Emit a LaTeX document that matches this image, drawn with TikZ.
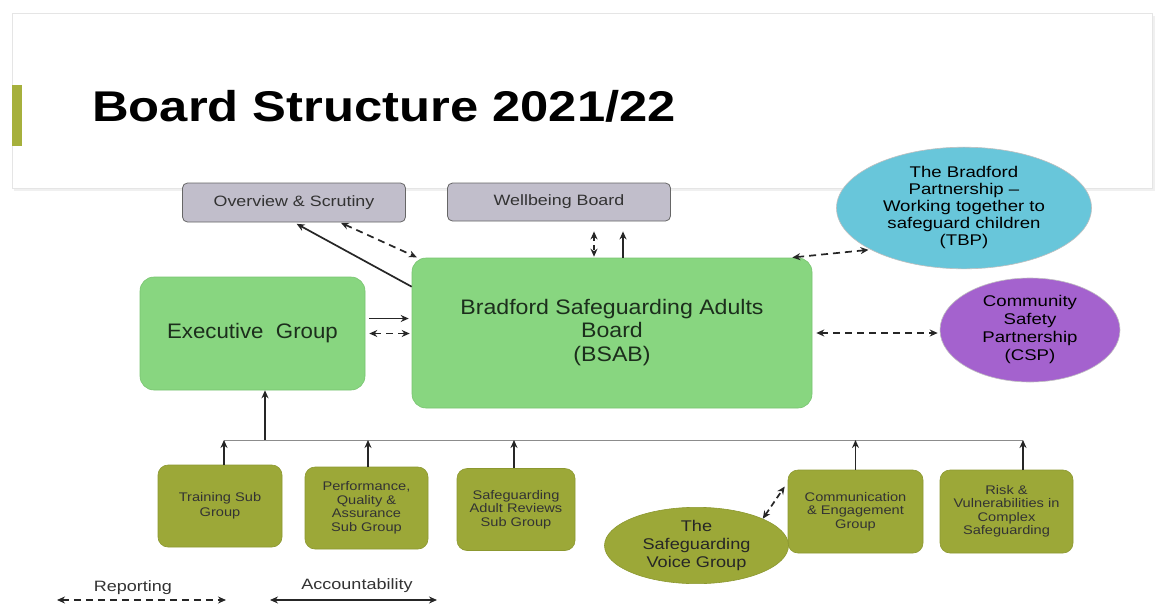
\documentclass[tikz,border=0pt]{standalone}
\usepackage{fontspec}
\setmainfont{Liberation Sans}
\usetikzlibrary{shapes.geometric,arrows.meta}
\definecolor{boardgreen}{HTML}{88D680}
\definecolor{boardgreenb}{HTML}{78C470}
\definecolor{olive}{HTML}{9CA838}
\definecolor{oliveb}{HTML}{8C9830}
\definecolor{tbpblue}{HTML}{68C6DA}
\definecolor{cspviolet}{HTML}{A462CE}
\definecolor{greybox}{HTML}{C1BECB}
\definecolor{accent}{HTML}{A6B03C}
\definecolor{darktext}{HTML}{1C2E1C}
\tikzset{
  greenbox/.style={draw=boardgreenb,fill=boardgreen,rounded corners=14pt,align=center,text=darktext,line width=0.6pt},
  subbox/.style={draw=oliveb,fill=olive,rounded corners=10pt,align=center,font=\fontsize{12.5}{15.5}\selectfont,text=black!80,line width=0.6pt},
  topbox/.style={draw=black!60,fill=greybox,rounded corners=5pt,align=center,font=\fontsize{15}{17}\selectfont,text=black!80,line width=0.8pt},
  oval/.style={ellipse,draw=black!25,align=center,inner sep=0pt,line width=0.6pt},
  arrtip/.tip={Stealth[length=8pt,width=7pt]},
  solidarr/.style={-arrtip,line width=1.7pt,draw=black!85},
  dasharr/.style={arrtip-arrtip,line width=1.7pt,draw=black!85,dash pattern=on 7pt off 5pt},
  soliddbl/.style={arrtip-arrtip,line width=1.6pt,draw=black!85},
}
\begin{document}
\begin{tikzpicture}[x=1pt,y=-1pt]
\useasboundingbox (0,0) rectangle (1160,603);
\fill[white] (0,0) rectangle (1160,603);
% header panel
\fill[black!6] (14,16) rectangle (1155,191);
\filldraw[draw=black!10,fill=white] (12,13) rectangle (1152,188);
\fill[accent] (12,85) rectangle (22,146);
\node[anchor=base west,font=\fontsize{43}{50}\selectfont\bfseries,xscale=1.18] (title) at (88,121) {Board Structure 2021/22};

% nodes
\node[topbox,minimum width=223pt,minimum height=39pt] (overview) at (294,202.5) {\scalebox{1.19}[1]{Overview \& Scrutiny}};
\node[topbox,minimum width=223pt,minimum height=38pt] (wellbeing) at (559,202) {\scalebox{1.19}[1]{Wellbeing Board}};
\node[oval,fill=tbpblue,minimum width=255pt,minimum height=120pt,font=\fontsize{15.5}{18}\selectfont] (tbp) at (964,208) {\scalebox{1.2}[1]{\begin{tabular}{@{}c@{}}The Bradford\\[-1pt]Partnership --\\[-1pt]Working together to\\[-1pt]safeguard children\\[-1pt](TBP)\end{tabular}}};
\node[oval,fill=cspviolet,minimum width=180pt,minimum height=104pt,font=\fontsize{15.5}{18}\selectfont] (csp) at (1030,330) {\scalebox{1.2}[1]{\begin{tabular}{@{}c@{}}Community\\[0pt]Safety\\[0pt]Partnership\\[0pt](CSP)\end{tabular}}};
\node[greenbox,minimum width=225pt,minimum height=113pt,font=\fontsize{21}{24}\selectfont] (exec) at (252.5,333.5) {\scalebox{1.06}[1]{Executive\ \ Group}};
\node[greenbox,minimum width=400pt,minimum height=150pt,font=\fontsize{21}{23.5}\selectfont] (bsab) at (612,333) {\scalebox{1.1}[1]{\begin{tabular}{@{}c@{}}Bradford Safeguarding Adults\\Board\\(BSAB)\end{tabular}}};

\node[subbox,minimum width=124pt,minimum height=82pt] (training) at (220,506) {\scalebox{1.17}[1]{\begin{tabular}{@{}c@{}}Training Sub\\Group\end{tabular}}};
\node[subbox,minimum width=123pt,minimum height=82pt] (perf) at (366.5,508) {\scalebox{1.17}[1]{\begin{tabular}{@{}c@{}}Performance,\\[-2pt]Quality \&\\[-2pt]Assurance\\[-2pt]Sub Group\end{tabular}}};
\node[subbox,minimum width=118pt,minimum height=82pt] (sar) at (516,509.5) {\scalebox{1.17}[1]{\begin{tabular}{@{}c@{}}Safeguarding\\[-2pt]Adult Reviews\\[-2pt]Sub Group\end{tabular}}};
\node[subbox,minimum width=135pt,minimum height=83pt] (comm) at (855.5,511.5) {\scalebox{1.17}[1]{\begin{tabular}{@{}c@{}}Communication\\[-2pt]\& Engagement\\[-2pt]Group\end{tabular}}};
\node[subbox,minimum width=133pt,minimum height=83pt] (risk) at (1006.5,511.5) {\scalebox{1.17}[1]{\begin{tabular}{@{}c@{}}Risk \&\\[-2pt]Vulnerabilities in\\[-2pt]Complex\\[-2pt]Safeguarding\end{tabular}}};
\node[oval,draw=oliveb,fill=olive,minimum width=184pt,minimum height=59pt,font=\fontsize{15.5}{18}\selectfont,text=black!85] (voice) at (696.5,545.5) {\scalebox{1.17}[1]{\begin{tabular}{@{}c@{}}The\\[0pt]Safeguarding\\[0pt]Voice Group\end{tabular}}};

% bus
\coordinate (busL) at (224,440);
\coordinate (busR) at (1023,440);
\coordinate (busE) at (265,440);
\draw[black!45,line width=0.8pt] (busL) -- (busR);
\draw[solidarr] (busE) -- (busE |- exec.south);
\coordinate (tA) at (224,465);
\coordinate (pA) at (368,467);
\coordinate (sA) at (514,468);
\coordinate (rA) at (1023,470);
\draw[solidarr] (tA) -- (tA |- busL);
\draw[solidarr] (pA) -- (pA |- busL);
\draw[solidarr] (sA) -- (sA |- busL);
\draw[solidarr] (comm.north) -- (comm.north |- busL);
\draw[solidarr] (rA) -- (rA |- busL);

% voice <-> comm
\draw[dasharr,dash pattern=on 6pt off 4pt] (voice.22) -- ([yshift=25pt,xshift=-3pt]comm.west);

% exec <-> bsab
\draw[solidarr,shorten <=4pt,shorten >=3pt] ([yshift=15pt]exec.east) -- ([yshift=15pt]exec.east -| bsab.west);
\draw[dasharr,shorten <=4pt,shorten >=2pt] (exec.east) -- (exec.east -| bsab.west);

% overview
\draw[solidarr,shorten >=3pt] ([yshift=-29pt]bsab.north west) -- (overview.south);
\draw[dasharr,shorten <=1pt,shorten >=1pt] ([xshift=46pt]overview.south) -- ([xshift=6pt]bsab.north west);

% wellbeing
\draw[dasharr,shorten <=10pt,shorten >=1pt,dash pattern=on 5pt off 4pt] ([xshift=35pt]wellbeing.south) -- ([xshift=35pt]wellbeing.south |- bsab.north);
\draw[solidarr,shorten >=10pt] ([xshift=64pt]wellbeing.south |- bsab.north) -- ([xshift=64pt]wellbeing.south);

% tbp, csp
\draw[dasharr,shorten <=2pt,shorten >=2pt] ([xshift=-22pt]bsab.north east) -- (tbp.204);
\draw[dasharr,shorten <=4pt,shorten >=2pt] (bsab.east) -- (bsab.east -| csp.west);

% legend
\node[font=\fontsize{15}{17}\selectfont,text=black!80,xscale=1.2] (rep) at (133,588) {Reporting};
\node[font=\fontsize{15}{17}\selectfont,text=black!80,xscale=1.2] (acc) at (357,586) {Accountability};
\coordinate (rL) at (57,600);
\coordinate (rR) at (226,600);
\coordinate (aL) at (270,600);
\coordinate (aR) at (437,600);
\draw[dasharr] (rL) -- (rR);
\draw[soliddbl] (aL) -- (aR);
\end{tikzpicture}
\end{document}
